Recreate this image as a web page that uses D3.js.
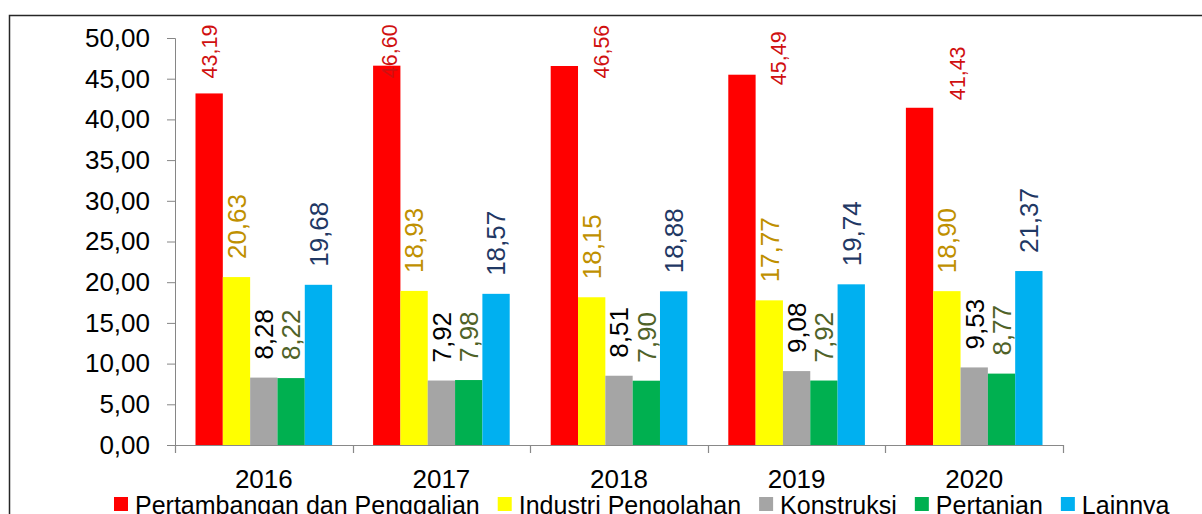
<!DOCTYPE html>
<html>
<head>
<meta charset="utf-8">
<script src="https://cdn.jsdelivr.net/npm/d3@7"></script>
<style>
  html, body { margin: 0; padding: 0; background: #fff; overflow: hidden; }
  svg { display: block; font-family: "Liberation Sans", Arial, sans-serif; }
</style>
</head>
<body>
<div id="chart"></div>
<script>
// data
var years = ["2016", "2017", "2018", "2019", "2020"];
var seriesNames = ["Pertambangan dan Penggalian", "Industri Pengolahan", "Konstruksi", "Pertanian", "Lainnya"];
var pertambangan = [43.19, 46.60, 46.56, 45.49, 41.43];
var industri = [20.63, 18.93, 18.15, 17.77, 18.90];
var konstruksi = [8.28, 7.92, 8.51, 9.08, 9.53];
var pertanian = [8.22, 7.98, 7.90, 7.92, 8.77];
var lainnya = [19.68, 18.57, 18.88, 19.74, 21.37];
var yTicks = [0, 5, 10, 15, 20, 25, 30, 35, 40, 45, 50];

var barColors = ["#FF0000", "#FFFF00", "#A5A5A5", "#00B050", "#00B0F0"];
var labelColors = ["#D01010", "#BF9000", "#000000", "#4F6228", "#1F3864"];
// red labels were moved by hand in the original (dx, dy from bar top)
var redLabelNudge = [[0, -15], [2, 12.5], [37, 12.5], [36.5, 10.5], [38, -7.5]];

var allSeries = [pertambangan, industri, konstruksi, pertanian, lainnya];

var width = 1202, height = 514;
var plotLeft = 175, plotRight = 1063, plotTop = 38, plotBottom = 445;

var svg = d3.select("#chart").append("svg")
  .attr("width", width)
  .attr("height", height);

// outer frame (runs off the right/bottom edge)
svg.append("rect")
  .attr("x", 9.5).attr("y", 15.5)
  .attr("width", 1400).attr("height", 700)
  .attr("fill", "none")
  .attr("stroke", "#262626")
  .attr("stroke-width", 1.5);

var x0 = d3.scaleBand().domain(years).range([plotLeft, plotRight]).padding(0);
var x1 = d3.scaleBand().domain(d3.range(seriesNames.length))
  .range([0, x0.bandwidth()]).paddingInner(0).paddingOuter(0.75);
var y = d3.scaleLinear().domain([0, 50]).range([plotBottom, plotTop]);

var fmt = function(v) { return d3.format(".2f")(v).replace(".", ","); };

// y axis
var yAxis = d3.axisLeft(y).tickValues(yTicks).tickSize(8).tickPadding(17)
  .tickFormat(fmt);
var gy = svg.append("g")
  .attr("transform", "translate(" + plotLeft + ",0)")
  .call(yAxis);
gy.select(".domain").attr("stroke", "#868686");
gy.selectAll(".tick line").attr("stroke", "#868686");
gy.selectAll("text").attr("font-size", 26).attr("fill", "#000")
  .attr("font-family", "'Liberation Sans', Arial, sans-serif");

// bars
var groups = svg.append("g").selectAll("g")
  .data(years)
  .enter().append("g")
  .attr("transform", function(d) { return "translate(" + x0(d) + ",0)"; });

groups.selectAll("rect")
  .data(function(d, i) { return allSeries.map(function(s, k) { return { k: k, v: s[i], i: i }; }); })
  .enter().append("rect")
  .attr("x", function(d) { return x1(d.k); })
  .attr("y", function(d) { return y(d.v); })
  .attr("width", x1.bandwidth())
  .attr("height", function(d) { return y(0) - y(d.v); })
  .attr("fill", function(d) { return barColors[d.k]; });

// value labels (rotated)
groups.selectAll("text")
  .data(function(d, i) { return allSeries.map(function(s, k) { return { k: k, v: s[i], i: i }; }); })
  .enter().append("text")
  .attr("transform", function(d) {
    var cx = x1(d.k) + x1.bandwidth() / 2;
    var cy = y(d.v) - 18;
    if (d.k === 0) {
      cx += redLabelNudge[d.i][0];
      cy = y(d.v) + redLabelNudge[d.i][1];
    }
    return "translate(" + cx + "," + cy + ") rotate(-90)";
  })
  .attr("dy", "0.36em")
  .attr("font-size", function(d) { return d.k === 0 ? 21.5 : 26; })
  .attr("fill", function(d) { return labelColors[d.k]; })
  .text(function(d) { return fmt(d.v); });

// x axis line + category boundary ticks
var axisCol = "#898989";
svg.append("line")
  .attr("x1", plotLeft).attr("x2", plotRight)
  .attr("y1", plotBottom + 0.5).attr("y2", plotBottom + 0.5)
  .attr("stroke", axisCol).attr("stroke-width", 1.2);
svg.append("g").selectAll("line")
  .data(d3.range(years.length + 1))
  .enter().append("line")
  .attr("x1", function(i) { return Math.round(plotLeft + i * x0.step()) + 0.5; })
  .attr("x2", function(i) { return Math.round(plotLeft + i * x0.step()) + 0.5; })
  .attr("y1", plotBottom).attr("y2", plotBottom + 8)
  .attr("stroke", axisCol).attr("stroke-width", 1.2);

var xAxis = d3.axisBottom(x0).tickSize(0).tickPadding(25);
var gx = svg.append("g")
  .attr("transform", "translate(0," + plotBottom + ")")
  .call(xAxis);
gx.select(".domain").remove();
gx.selectAll("text").attr("font-size", 26).attr("fill", "#000")
  .attr("font-family", "'Liberation Sans', Arial, sans-serif");

// legend
var legend = svg.append("g");
var items = legend.selectAll("g")
  .data(seriesNames)
  .enter().append("g");
items.append("rect")
  .attr("width", 14).attr("height", 14)
  .attr("y", 497)
  .attr("fill", function(d, i) { return barColors[i]; });
items.append("text")
  .attr("x", 21)
  .attr("y", 514)
  .attr("font-size", 25)
  .attr("fill", "#000")
  .text(function(d) { return d; });

var xpos = 114;
items.each(function() {
  var g = d3.select(this);
  g.attr("transform", "translate(" + xpos + ",0)");
  xpos += 21 + g.select("text").node().getComputedTextLength() + 18;
});
</script>
</body>
</html>
